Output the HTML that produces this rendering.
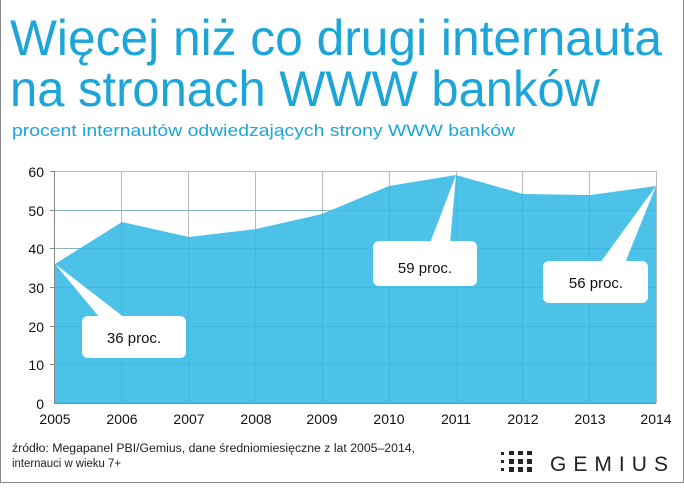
<!DOCTYPE html>
<html><head><meta charset="utf-8"><style>
body{margin:0;width:684px;height:483px;overflow:hidden;background:#fff;font-family:"Liberation Sans",sans-serif}
</style></head><body>
<svg width="684" height="483" xmlns="http://www.w3.org/2000/svg" font-family="Liberation Sans, sans-serif">
<rect x="0.5" y="-1" width="683" height="483.5" fill="#fff" stroke="#888"/>
<text x="10" y="55" font-size="50" fill="#1ba5d8" textLength="652" lengthAdjust="spacingAndGlyphs">Więcej niż co drugi internauta</text>
<text x="10" y="106" font-size="50" fill="#1ba5d8" textLength="590" lengthAdjust="spacingAndGlyphs">na stronach WWW banków</text>
<text x="12" y="136" font-size="17" fill="#1ba5d8" textLength="503" lengthAdjust="spacingAndGlyphs">procent internautów odwiedzających strony WWW banków</text>
<g stroke="#bbb" stroke-width="1">
<line x1="55" y1="171.5" x2="656" y2="171.5"/><line x1="55" y1="210.5" x2="656" y2="210.5"/><line x1="55" y1="248.5" x2="656" y2="248.5"/><line x1="55" y1="287.5" x2="656" y2="287.5"/><line x1="55" y1="326.5" x2="656" y2="326.5"/><line x1="55" y1="364.5" x2="656" y2="364.5"/>
<line x1="121.5" y1="171" x2="121.5" y2="403"/><line x1="188.5" y1="171" x2="188.5" y2="403"/><line x1="255.5" y1="171" x2="255.5" y2="403"/><line x1="322.5" y1="171" x2="322.5" y2="403"/><line x1="389.5" y1="171" x2="389.5" y2="403"/><line x1="456.5" y1="171" x2="456.5" y2="403"/><line x1="522.5" y1="171" x2="522.5" y2="403"/><line x1="589.5" y1="171" x2="589.5" y2="403"/><line x1="656.5" y1="171" x2="656.5" y2="403"/>
</g>
<polygon points="55,264 122,222 189,237 256,229 322,214 389,186 456,175 523,194 590,195 656,186 656,403 55,403" fill="#4cc2e8"/>
<g stroke="#2aa5cf" stroke-opacity="0.35"><line x1="55" y1="248.5" x2="656" y2="248.5"/><line x1="55" y1="287.5" x2="656" y2="287.5"/><line x1="55" y1="326.5" x2="656" y2="326.5"/><line x1="55" y1="364.5" x2="656" y2="364.5"/><line x1="55" y1="210.5" x2="656" y2="210.5"/>
<line x1="121.5" y1="222" x2="121.5" y2="403"/><line x1="188.5" y1="237" x2="188.5" y2="403"/><line x1="255.5" y1="229" x2="255.5" y2="403"/><line x1="322.5" y1="214" x2="322.5" y2="403"/><line x1="389.5" y1="186" x2="389.5" y2="403"/><line x1="456.5" y1="176" x2="456.5" y2="403"/><line x1="522.5" y1="194" x2="522.5" y2="403"/><line x1="589.5" y1="195" x2="589.5" y2="403"/></g>
<line x1="54.5" y1="171" x2="54.5" y2="404" stroke="#888"/>
<line x1="54" y1="403.5" x2="656" y2="403.5" stroke="#888"/>
<g stroke="#888"><line x1="50" y1="171.5" x2="55" y2="171.5"/><line x1="50" y1="210.5" x2="55" y2="210.5"/><line x1="50" y1="248.5" x2="55" y2="248.5"/><line x1="50" y1="287.5" x2="55" y2="287.5"/><line x1="50" y1="326.5" x2="55" y2="326.5"/><line x1="50" y1="364.5" x2="55" y2="364.5"/></g>
<g font-size="14" fill="#111" text-anchor="end"><text x="44" y="177">60</text><text x="44" y="216">50</text><text x="44" y="254">40</text><text x="44" y="293">30</text><text x="44" y="332">20</text><text x="44" y="370">10</text><text x="44" y="409">0</text></g>
<g font-size="14" fill="#111" text-anchor="middle"><text x="55" y="424">2005</text><text x="122" y="424">2006</text><text x="189" y="424">2007</text><text x="256" y="424">2008</text><text x="322" y="424">2009</text><text x="389" y="424">2010</text><text x="456" y="424">2011</text><text x="523" y="424">2012</text><text x="590" y="424">2013</text><text x="656" y="424">2014</text></g>
<g fill="#fff">
<polygon points="55,264 100,318 125,318"/><rect x="82" y="316" width="104" height="42" rx="6"/>
<polygon points="456,175 430,243 450,243"/><rect x="373" y="241" width="104" height="45" rx="6"/>
<polygon points="656,186 600,263 625,263"/><rect x="543" y="261" width="105" height="42" rx="6"/>
</g>
<g font-size="15" fill="#111" text-anchor="middle"><text x="134" y="343">36 proc.</text><text x="425" y="273">59 proc.</text><text x="596" y="288">56 proc.</text></g>
<text x="12" y="452" font-size="11.5" fill="#222" textLength="403" lengthAdjust="spacingAndGlyphs">źródło: Megapanel PBI/Gemius, dane średniomiesięczne z lat 2005–2014,</text>
<text x="12" y="467" font-size="11.5" fill="#222" textLength="109" lengthAdjust="spacingAndGlyphs">internauci w wieku 7+</text>
<g fill="#222">
<rect x="501" y="452" width="3" height="3"/><rect x="509" y="451" width="5" height="4"/><rect x="518" y="451" width="5" height="4"/><rect x="527" y="451" width="5" height="4"/>
<rect x="501" y="460" width="3" height="3"/><rect x="509" y="459" width="5" height="5"/><rect x="518" y="459" width="5" height="5"/><rect x="527" y="459" width="5" height="5"/>
<rect x="501" y="468" width="3" height="3"/><rect x="509" y="467" width="5" height="5"/><rect x="518" y="467" width="5" height="5"/><rect x="527" y="467" width="5" height="5"/>
</g>
<text x="550" y="471" font-size="21" fill="#222" textLength="118" lengthAdjust="spacing">GEMIUS</text>
</svg>
</body></html>
